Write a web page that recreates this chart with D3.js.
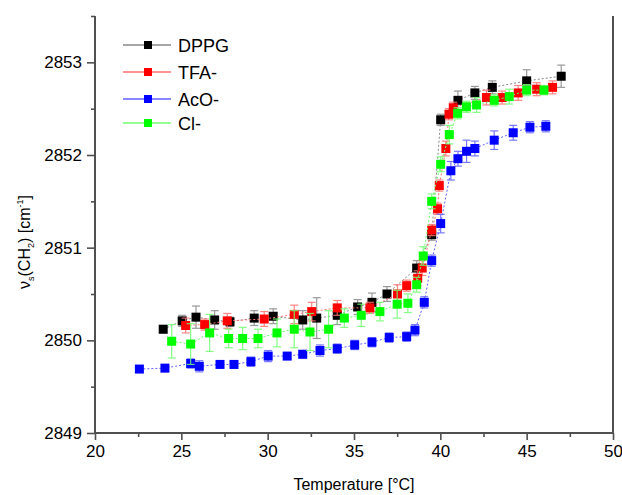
<!DOCTYPE html>
<html><head><meta charset="utf-8">
<script src="https://cdn.jsdelivr.net/npm/d3@7"></script>
<style>body{margin:0;background:#fff}svg{display:block;font-family:Arial,"Liberation Sans",sans-serif}</style>
</head><body><svg id="c" width="622" height="495"></svg>
<script>
const seriesNames = ["DPPG","TFA-","AcO-","Cl-"];
const seriesColors = ["#000000","#ff0000","#0000ff","#00ff00"];
const lineColors = ["#888888","#ff7070","#6060ff","#70ff70"];

const dppgT = [23.95,25.05,25.85,26.93,27.82,29.22,30.32,32.03,32.84,34.03,35.21,36.04,36.91,38.63,39.5,40.02,41.02,42.0,43.01,45.0,47.0];
const dppgV = [2850.12,2850.21,2850.25,2850.22,2850.2,2850.24,2850.26,2850.22,2850.24,2850.27,2850.36,2850.41,2850.5,2850.78,2851.14,2852.38,2852.59,2852.67,2852.73,2852.8,2852.85];
const dppgE = [0.04,0.06,0.12,0.1,0.05,0.08,0.08,0.1,0.22,0.1,0.08,0.1,0.08,0.08,0.06,0.06,0.1,0.07,0.07,0.12,0.12];

const tfaT = [25.25,26.35,27.66,29.8,31.54,32.55,34.03,35.92,37.52,38.05,38.69,38.95,39.5,39.84,39.94,40.32,40.5,40.75,42.67,43.58,44.51,45.58,46.5];
const tfaV = [2850.16,2850.17,2850.21,2850.23,2850.28,2850.31,2850.35,2850.35,2850.5,2850.59,2850.67,2850.78,2851.19,2851.42,2851.67,2852.07,2852.44,2852.51,2852.62,2852.62,2852.67,2852.71,2852.73];
const tfaE = [0.08,0.06,0.08,0.08,0.1,0.1,0.08,0.06,0.1,0.06,0.08,0.08,0.06,0.06,0.06,0.08,0.06,0.06,0.08,0.07,0.08,0.07,0.07];

const acoT = [22.57,24.05,25.54,26.04,27.24,28.05,29.03,30.03,31.13,32.03,33.03,34.03,35.04,36.04,37.04,38.05,38.53,39.07,39.5,40.02,40.61,41.02,41.52,42.0,43.12,44.22,45.19,46.11];
const acoV = [2849.69,2849.7,2849.75,2849.72,2849.74,2849.74,2849.77,2849.83,2849.83,2849.85,2849.89,2849.91,2849.95,2849.98,2850.03,2850.04,2850.11,2850.41,2850.86,2851.26,2851.83,2851.96,2852.04,2852.07,2852.16,2852.24,2852.3,2852.31];
const acoE = [0.03,0.03,0.05,0.06,0.03,0.04,0.05,0.06,0.03,0.04,0.06,0.05,0.05,0.05,0.05,0.05,0.06,0.06,0.06,0.1,0.1,0.08,0.12,0.08,0.1,0.08,0.06,0.06];

const clT = [24.44,25.54,26.64,27.74,28.55,29.44,30.54,31.54,32.45,33.53,34.44,35.42,36.5,37.5,38.12,38.63,39.01,39.5,40.02,40.52,41.0,41.51,42.1,43.12,43.99,45.0,46.0];
const clV = [2849.99,2849.96,2850.08,2850.02,2850.02,2850.02,2850.08,2850.12,2850.09,2850.12,2850.24,2850.27,2850.31,2850.39,2850.4,2850.6,2850.91,2851.5,2851.9,2852.22,2852.45,2852.52,2852.54,2852.59,2852.63,2852.7,2852.7];
const clE = [0.18,0.22,0.2,0.1,0.12,0.1,0.15,0.2,0.2,0.2,0.1,0.12,0.1,0.15,0.1,0.08,0.1,0.08,0.08,0.1,0.06,0.06,0.08,0.06,0.08,0.06,0.05];

const xTicks = [20,25,30,35,40,45,50];
const yTicks = [2849,2850,2851,2852,2853];

const allT=[dppgT,tfaT,acoT,clT], allV=[dppgV,tfaV,acoV,clV], allE=[dppgE,tfaE,acoE,clE];

const svg = d3.select("#c");
const L=95,R=613,T=16,B=433;
const x = d3.scaleLinear().domain([20,50]).range([L,R]);
const y = d3.scaleLinear().domain([2849,2853.5]).range([B,T]);
const axisCol="#505050";

// data
allT.forEach((ts,i)=>{
  const pts = ts.map((t,j)=>({t, v:allV[i][j], e:allE[i][j]}));
  const g = svg.append("g");
  g.append("path").datum(pts)
    .attr("d", d3.line().x(d=>x(d.t)).y(d=>y(d.v)))
    .attr("fill","none").attr("stroke",lineColors[i]).attr("stroke-width",1)
    .attr("stroke-dasharray","2,2");
  const eb = g.selectAll(".eb").data(pts).enter().append("g")
    .attr("stroke",lineColors[i]).attr("stroke-width",1.2).attr("opacity",0.85);
  eb.append("line").attr("x1",d=>x(d.t)).attr("x2",d=>x(d.t)).attr("y1",d=>y(d.v+d.e)).attr("y2",d=>y(d.v-d.e));
  eb.append("line").attr("x1",d=>x(d.t)-4).attr("x2",d=>x(d.t)+4).attr("y1",d=>y(d.v+d.e)).attr("y2",d=>y(d.v+d.e));
  eb.append("line").attr("x1",d=>x(d.t)-4).attr("x2",d=>x(d.t)+4).attr("y1",d=>y(d.v-d.e)).attr("y2",d=>y(d.v-d.e));
  g.selectAll("rect").data(pts).enter().append("rect")
    .attr("x",d=>x(d.t)-4.5).attr("y",d=>y(d.v)-4.5).attr("width",9).attr("height",9)
    .attr("fill",seriesColors[i]);
});

// axes
svg.append("g").attr("transform",`translate(0,${B})`)
  .call(d3.axisBottom(x).tickValues(xTicks).tickSize(7).tickPadding(5).tickFormat(d3.format("d")));
svg.append("g").attr("transform",`translate(${L},0)`)
  .call(d3.axisLeft(y).tickValues(yTicks).tickSize(8).tickPadding(5).tickFormat(d3.format("d")));
svg.append("g").attr("transform",`translate(0,${B})`)
  .call(d3.axisBottom(x).tickValues(d3.range(22.5,50,5)).tickSize(4).tickFormat(""));
svg.append("g").attr("transform",`translate(${L},0)`)
  .call(d3.axisLeft(y).tickValues([2849.5,2850.5,2851.5,2852.5,2853.5]).tickSize(4).tickFormat(""));
svg.selectAll(".domain").remove();
svg.selectAll(".tick line").attr("stroke",axisCol).attr("stroke-width",1.6);
svg.selectAll(".tick text").attr("font-size","17px").attr("fill","#000").attr("font-family","Arial, 'Liberation Sans', sans-serif");
svg.append("line").attr("x1",L).attr("x2",R).attr("y1",B).attr("y2",B).attr("stroke",axisCol).attr("stroke-width",2);
svg.append("line").attr("x1",L).attr("x2",L).attr("y1",T).attr("y2",B).attr("stroke",axisCol).attr("stroke-width",2);
svg.append("line").attr("x1",R).attr("x2",R).attr("y1",T).attr("y2",B).attr("stroke",axisCol).attr("stroke-width",2);

// titles
svg.append("text").attr("x",354).attr("y",490).attr("text-anchor","middle").attr("font-size","16px").text("Temperature [°C]");
const yt = svg.append("text").attr("transform","translate(30,242) rotate(-90)").attr("text-anchor","middle").attr("font-size","16px");
yt.append("tspan").text("ν");
yt.append("tspan").attr("font-size","9px").attr("dy",4).text("s");
yt.append("tspan").attr("dy",-4).text("(CH");
yt.append("tspan").attr("font-size","9px").attr("dy",4).text("2");
yt.append("tspan").attr("dy",-4).text(") [cm");
yt.append("tspan").attr("font-size","9px").attr("dy",-7).text("-1");
yt.append("tspan").attr("dy",7).text("]");

// legend
const legY=[45,72,99,123];
seriesNames.forEach((n,i)=>{
  const g=svg.append("g");
  g.append("line").attr("x1",123).attr("x2",171).attr("y1",legY[i]).attr("y2",legY[i]).attr("stroke",lineColors[i]).attr("stroke-width",1.5);
  g.append("rect").attr("x",144).attr("y",legY[i]-4).attr("width",8).attr("height",8).attr("fill",seriesColors[i]);
  g.append("text").attr("x",178).attr("y",legY[i]+6.5).attr("font-size","18px").text(n);
});
</script></body></html>
